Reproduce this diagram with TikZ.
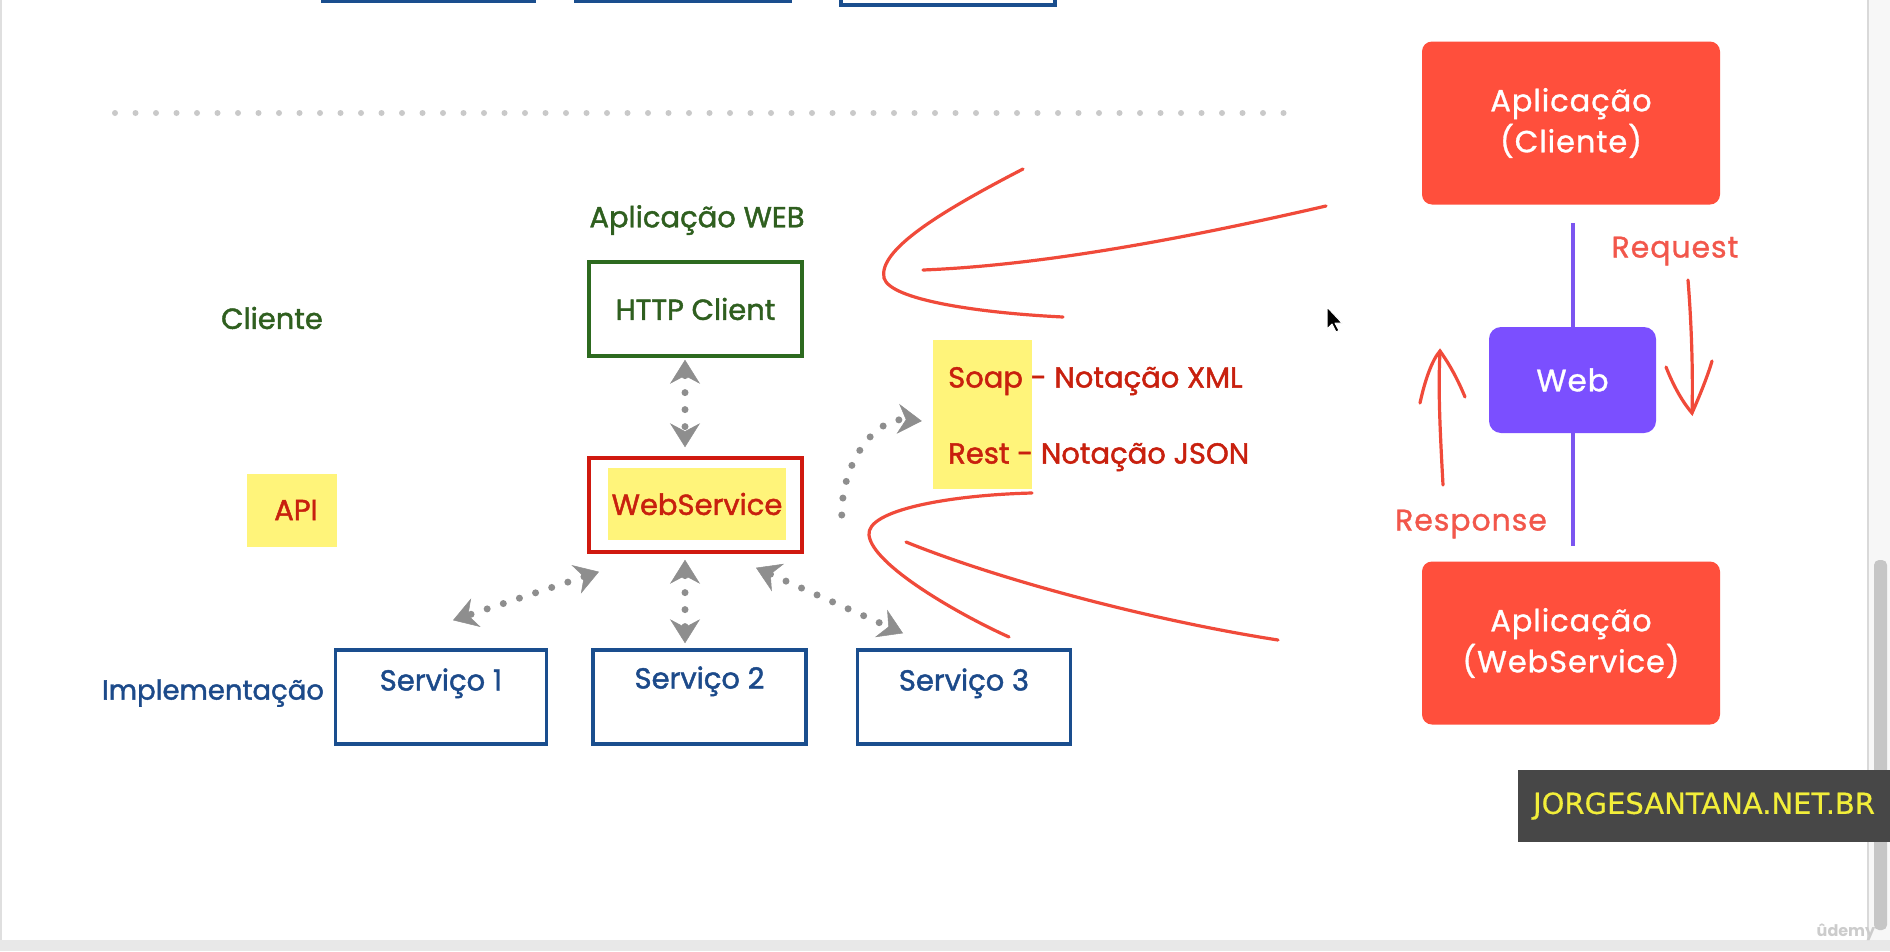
\documentclass[tikz,border=0pt]{standalone}
\usepackage{fontspec}
\setmainfont{Poppins}
\newfontfamily\lfont{Poppins}[FakeBold=1.5]
\newfontfamily\rfont{Poppins}[FakeBold=1, LetterSpace=3]
\newfontfamily\dejavu{DejaVu Sans}[FakeBold=0.5]
\usetikzlibrary{arrows.meta}
\definecolor{cgreen}{HTML}{2F5F1F}
\definecolor{cgreenb}{HTML}{2D6A1F}
\definecolor{cred}{HTML}{C8200E}
\definecolor{credb}{HTML}{D0190F}
\definecolor{cblue}{HTML}{1C4A8A}
\definecolor{cblueb}{HTML}{1A4E8E}
\definecolor{cyellow}{HTML}{FFF47A}
\definecolor{cgray}{HTML}{8E8E8E}
\definecolor{csep}{HTML}{C9C9C9}
\definecolor{cline}{HTML}{F04A3A}
\definecolor{capp}{HTML}{FF4F3C}
\definecolor{cpurp}{HTML}{7B4FFF}
\definecolor{cpline}{HTML}{7B55F0}
\definecolor{creq}{HTML}{F2574B}
\definecolor{cwm}{HTML}{474747}
\definecolor{cwmt}{HTML}{F2EE3A}
\begin{document}
\begin{tikzpicture}[x=1pt,y=-1pt,
  sketchbox/.style={draw, line width=3.5pt, minimum width=213pt, minimum height=94pt, inner sep=0pt, fill=white},
  lefttxt/.style={font=\lfont\fontsize{29}{32}\selectfont, inner sep=0pt},
  ybg/.style={fill=cyellow, inner sep=0pt},
  gdots/.style={draw=cgray, line width=7pt, dash pattern=on 0pt off 17pt, line cap=round},
  gtip/.tip={Stealth[length=24pt,width=30pt,inset=8pt,line width=0.5pt]},
  redline/.style={draw=cline, line width=3.2pt, line cap=round},
  appbox/.style={fill=capp, rounded corners=10pt, minimum width=298pt, minimum height=163pt, text=white, align=center, font=\rfont\fontsize{30.5}{41}\selectfont},
  rtxt/.style={text=creq, font=\rfont\fontsize{30}{32}\selectfont, inner sep=0pt}]
\clip (0,0) rectangle (1890,951);
\fill[white] (0,0) rectangle (1890,951);

% top partial boxes
\draw[cblueb, line width=3.5pt] (323,-20) rectangle (534,1);
\draw[cblueb, line width=3.5pt] (576,-20) rectangle (790,1);
\draw[cblueb, line width=3.5pt] (841,-20) rectangle (1055,5);

% separator
\draw[csep, line width=6pt, dash pattern=on 0pt off 20.5pt, line cap=round] (115,113) -- (1300,113);

% left labels
\node[lefttxt, text=cgreen] (apweb) at (697,220) {Aplicação WEB};
\node[lefttxt, text=cgreen] (cli) at (272,318) {Cliente};
\node[lefttxt, text=cblue, font=\lfont\fontsize{27.5}{30}\selectfont] (impl) at (213,693) {Implementação};

% boxes
\node[sketchbox, draw=cgreenb, lefttxt, text=cgreen] (http) at (695.5,309) {HTTP Client};
\node[sketchbox, draw=credb] (ws) at (695.5,505) {};
\node[ybg, lefttxt, text=cred, minimum width=178pt, minimum height=72pt] (wsin) at (697,504) {WebService};
\node[ybg, lefttxt, text=cred, minimum width=90pt, minimum height=73pt] (api) at (292,510) {\hspace*{8pt}API};
\node[ybg, minimum width=99pt, minimum height=149pt] (soapbg) at (982.5,414.5) {};
\node[lefttxt, text=cred, anchor=west] (soap) at (948,381) {Soap - Notação XML};
\node[lefttxt, text=cred, anchor=west] (rest) at (948,457) {Rest - Notação JSON};

\node[sketchbox, draw=cblueb, minimum width=211pt, label={[lefttxt, text=cblue, anchor=center, yshift=-35pt]north:Serviço 1}] (s1) at (441,697) {};
\node[sketchbox, draw=cblueb, label={[lefttxt, text=cblue, anchor=center, yshift=-33pt]north:Serviço 2}] (s2) at (699.5,697) {};
\node[sketchbox, draw=cblueb, label={[lefttxt, text=cblue, anchor=center, yshift=-35pt]north:Serviço 3}] (s3) at (964,697) {};

% gray dotted arrows
\draw[gdots, gtip-gtip] ([xshift=-10.5pt,yshift=-2pt]http.south) -- ([xshift=-10.5pt,yshift=9pt]ws.north);
\draw[gdots, gtip-gtip] ([xshift=-10.5pt,yshift=-6pt]ws.south) -- ([xshift=-14.5pt,yshift=5pt]s2.north);
\draw[gdots, gtip-gtip] ([xshift=-96.5pt,yshift=-18pt]ws.south) -- ([xshift=12pt,yshift=28pt]s1.north);
\draw[gdots, gtip-gtip] ([xshift=60.5pt,yshift=-14pt]ws.south) -- ([xshift=-61pt,yshift=15pt]s3.north);
\draw[gdots, -gtip] ([xshift=38pt,yshift=-10pt]ws.east) .. controls +(0,-55) and +(-45,-4) .. ([xshift=-11pt,yshift=-6.5pt]soapbg.west);

% red hand-drawn brackets
\draw[redline] (1023,169) .. controls (940,212) and (878,250) .. (884,278) .. controls (890,300) and (980,313) .. (1063,317);
\draw[redline] (923,270) .. controls (1050,265) and (1200,235) .. (1326,206);
\draw[redline] (1032,493) .. controls (950,495) and (866,510) .. (869,535) .. controls (872,565) and (960,615) .. (1009,637);
\draw[redline] (906,542) .. controls (1000,580) and (1150,620) .. (1278,640);

% right side
\node[appbox] (appcli) at (1571,123) {Aplicação\\(Cliente)};
\node[appbox] (appws) at (1571,643) {Aplicação\\(WebService)};
\node[fill=cpurp, rounded corners=12pt, minimum width=167pt, minimum height=106pt, text=white, font=\rfont\fontsize{31}{34}\selectfont] (web) at (1572.5,380) {Web};
\coordinate (pl1) at (1573,223);
\coordinate (pl2) at (1573,546);
\draw[cpline, line width=3.5pt] (pl1) -- (pl1 |- web.north);
\draw[cpline, line width=3.5pt] (pl2 |- web.south) -- (pl2);
\node[rtxt] (req) at (1675,251) {Request};
\node[rtxt] (resp) at (1471,524) {Response};
\draw[redline] (1688,280) .. controls (1692,330) and (1693,380) .. (1692,413);
\draw[redline] (1666,367) .. controls (1675,390) and (1685,405) .. (1692,413) .. controls (1700,395) and (1708,375) .. (1712,361);
\draw[redline] (1443,485) .. controls (1440,430) and (1438,390) .. (1440,351);
\draw[redline] (1420,403) .. controls (1425,380) and (1432,360) .. (1440,351) .. controls (1450,365) and (1458,380) .. (1465,397);

% mouse cursor
\draw[fill=black, draw=white, line width=1pt, line join=round] (1327,307) -- ++(0,22) -- ++(5,-5) -- ++(4,8) -- ++(3,-1.5) -- ++(-4,-7.5) -- ++(7,0) -- cycle;

% window chrome
\draw[gray!25, line width=2pt] (1,0) -- (1,940);
\fill[gray!6] (1868,0) rectangle (1890,940);
\draw[gray!30, line width=2pt] (1868,0) -- (1868,940);
\fill[gray!45, rounded corners=5pt] (1874,560) rectangle (1887,930);
\fill[gray!18] (0,940) rectangle (1890,951);
\node[text=gray!40, font=\fontsize{16}{18}\selectfont\bfseries, inner sep=0pt] (udemy) at (1846,932) {ûdemy};

% watermark
\node[fill=cwm, minimum width=372pt, minimum height=72pt, inner sep=0pt, text=cwmt, font=\dejavu\fontsize{29}{31}\selectfont] (wm) at (1704,806) {JORGESANTANA.NET.BR};
\end{tikzpicture}
\end{document}
